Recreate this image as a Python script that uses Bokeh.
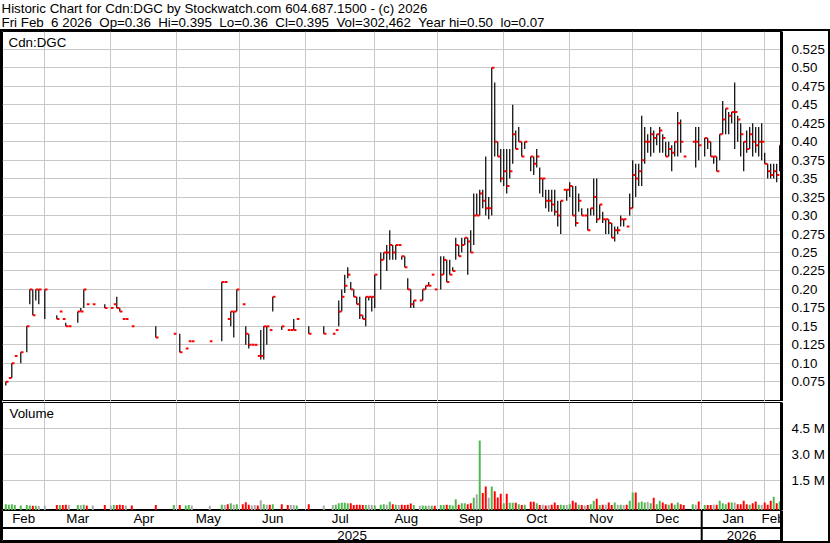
from bokeh.plotting import figure
from bokeh.models import Range1d, FixedTicker, Label, Span, ColumnDataSource
from bokeh.layouts import column
from bokeh.embed import file_html
from bokeh.resources import INLINE
from bokeh.core.properties import value

FONT = "Liberation Sans"
FS = "13.33px"
NB = "\u00a0"

header_line1 = "Historic Chart for Cdn:DGC by Stockwatch.com 604.687.1500 - (c) 2026"
header_line2 = ("Fri Feb " + NB + "6 2026 " + NB + "Op=0.36 " + NB + "Hi=0.395 " + NB + "Lo=0.36 " + NB +
                "Cl=0.395 " + NB + "Vol=302,462 " + NB + "Year hi=0.50 " + NB + "lo=0.07")
symbol = "Cdn:DGC"

# slot index (one slot per weekday) of each traded day
day = [0, 1, 2, 3, 5, 7, 8, 9, 10, 11, 13, 17, 18, 19, 20, 21, 24, 25, 26, 27, 29, 33, 35, 36, 37, 38, 39, 40, 42,
       50, 56, 58, 60, 61, 62, 68, 72, 73, 74, 75, 76, 77, 79, 80, 81, 82, 83, 84, 85, 86, 87, 88, 89, 92, 94, 95,
       96, 97, 101, 106, 109, 110, 111, 112, 113, 114, 115, 116, 117, 118, 119, 120, 121, 122, 123, 125, 126, 127,
       128, 129, 130, 131, 132, 133, 134, 135, 136, 138, 139, 140, 141, 142, 143, 145, 146, 147, 148, 149, 150,
       151, 152, 153, 154, 155, 156, 157, 158, 159, 160, 161, 162, 163, 164, 165, 166, 167, 168, 169, 170, 171,
       172, 173, 175, 176, 177, 178, 179, 180, 181, 182, 183, 184, 185, 186, 187, 188, 189, 190, 191, 192, 193,
       194, 195, 196, 197, 198, 199, 200, 201, 202, 203, 204, 205, 206, 207, 208, 209, 210, 211, 212, 213, 214,
       215, 216, 217, 218, 219, 220, 221, 222, 223, 224, 225, 226, 229, 230, 231, 233, 234, 235, 236, 237, 238,
       239, 240, 241, 242, 243, 244, 245, 246, 247, 248, 249, 250, 251, 252, 253, 254, 255, 256, 257, 258]
low = [.07, .08, .08, .11, .10, .115, .18, .165, .185, .18, .16, .16, .17, .16, .15, .15, .155, .17, .175, .18, .18,
       .175, .175, .18, .175, .17, .16, .16, .15,
       .135, .14, .115, .12, .13, .13, .13, .13, .21, .16, .15, .135, .17, .18, .125, .12, .125, .125, .11, .105,
       .105, .125, .145, .17, .145, .145, .145,
       .145, .16, .14, .14, .14, .145, .15, .17, .195, .215, .20, .19, .18, .16, .16, .15, .185, .17, .175, .20,
       .24, .225,
       .24, .24, .24, .26, .24, .23, .20, .175, .175, .185, .185, .20, .205, .22, .20, .20, .22, .21, .22, .225, .24,
       .245, .25, .26, .22, .25, .26, .30, .30, .31, .30, .295, .30, .38, .38, .345, .34, .33, .35, .37, .39, .40,
       .38, .39, .36, .355, .365, .33, .325, .31, .305, .305, .30, .285, .275, .335, .32, .325, .30, .285, .305, .30,
       .30,
       .28, .30, .30, .29, .295, .29, .275, .275, .27, .265, .275, .285, .285, .285, .30, .31, .325, .34, .34, .37,
       .385,
       .38, .385, .395, .385, .385, .38, .38, .36, .38, .38, .385, .38, .40, .365, .375, .38, .39, .38, .37, .36,
       .375,
       .41, .41, .41, .425, .39, .40, .38, .36, .385, .39, .38, .385, .38, .375, .37, .35, .35, .35, .345, .36]
high = [.075, .08, .10, .11, .115, .15, .20, .20, .20, .20, .20, .165, .17, .16, .155, .15, .17, .175, .20, .18, .18,
        .18, .175, .18, .19, .175, .16, .16, .15,
        .15, .14, .14, .12, .13, .13, .13, .21, .21, .16, .17, .17, .20, .18, .15, .14, .125, .125, .11, .145,
        .15, .15, .145, .19, .15, .145, .145,
        .16, .16, .15, .15, .14, .145, .185, .20, .22, .23, .21, .20, .19, .19, .165, .19, .19, .19, .22, .25,
        .25, .26,
        .28, .26, .26, .26, .245, .245, .215, .20, .185, .185, .20, .205, .21, .22, .20, .245, .245, .24, .24, .23,
        .27,
        .26, .27, .27, .27, .28, .33, .33, .335, .335, .38, .325, .50, .48, .40, .39, .39, .39, .39, .45, .415, .42,
        .40, .40, .38, .38, .39, .365, .35, .335, .335, .335, .335, .32, .32, .335, .335, .345, .34, .34, .33, .31,
        .30,
        .31, .31, .35, .35, .315, .305, .295, .295, .29, .285, .285, .30, .295, .285, .33, .375, .37, .37, .435, .42,
        .41,
        .42, .415, .41, .42, .41, .40, .40, .395, .40, .44, .43, .38, .40, .42, .42, .405, .405, .40, .38, .38,
        .41,
        .455, .445, .44, .44, .48, .435, .425, .40, .415, .42, .425, .42, .42, .425, .385, .37, .37, .37, .37, .395]
close = [.075, .08, .10, .11, .115, .15, .20, .165, .20, .20, .20, .16, .17, .16, .15, .15, .17, .17, .20, .18, .18,
         .175, .175, .18, .175, .17, .16, .16, .15,
         .135, .14, .115, .12, .13, .13, .13, .21, .21, .16, .17, .17, .20, .18, .14, .125, .125, .125, .11, .11,
         .15, .15, .145, .19, .15, .145, .145,
         .145, .16, .14, .14, .14, .145, .17, .19, .205, .22, .20, .19, .18, .165, .16, .19, .19, .19, .22, .24,
         .25, .25,
         .26, .25, .26, .26, .245, .23, .20, .18, .185, .185, .20, .205, .205, .22, .20, .22, .24, .21, .22, .225,
         .26,
         .245, .26, .27, .265, .25, .30, .30, .33, .32, .31, .31, .50, .40, .38, .35, .36, .34, .36, .41, .39, .40,
         .38, .40, .38, .37, .38, .35, .35, .32, .32, .315, .305, .30, .32, .335, .335, .34, .30, .29, .32, .30,
         .30,
         .28, .31, .325, .295, .315, .295, .295, .29, .27, .28, .28, .295, .295, .285, .31, .355, .35, .36, .375, .40,
         .40,
         .41, .405, .41, .415, .405, .38, .39, .385, .40, .425, .40, .38, .40, .40, .395, .405, .40, .38, .38, .36,
         .41,
         .43, .445, .435, .44, .44, .43, .41, .40, .39, .41, .40, .395, .40, .40, .37, .36, .355, .36, .355, .395]
volume = [150e3, 120e3, 150e3, 100e3, 80e3, 100e3, 80e3, 60e3, 60e3, 50e3, 60e3, 100e3, 100e3, 100e3, 120e3,
          100e3, 100e3, 100e3, 120e3, 80e3, 80e3, 100e3, 80e3, 100e3, 100e3, 120e3, 100e3, 80e3, 80e3,
          100e3, 100e3, 100e3, 80e3, 100e3, 80e3, 60e3, 120e3, 100e3, 150e3, 200e3, 120e3, 150e3, 150e3, 270e3,
          120e3, 80e3, 100e3, 80e3, 380e3, 150e3, 120e3, 120e3, 150e3, 150e3, 100e3, 100e3,
          100e3, 80e3, 150e3, 80e3, 100e3, 120e3, 200e3, 230e3, 230e3, 200e3, 200e3, 100e3, 120e3, 120e3, 100e3,
          100e3, 120e3, 100e3, 80e3, 120e3, 150e3, 120e3,
          290e3, 150e3, 120e3, 100e3, 120e3, 100e3, 120e3, 190e3, 100e3, 60e3, 80e3, 60e3, 80e3, 60e3, 60e3, 100e3,
          100e3, 120e3, 100e3, 80e3, 440e3,
          120e3, 200e3, 200e3, 150e3, 200e3, 520e3, 730e3, 3830e3, 800e3, 1170e3, 520e3, 1170e3, 900e3, 540e3,
          750e3, 210e3, 750e3, 230e3, 230e3, 230e3, 150e3,
          100e3, 120e3, 290e3, 290e3, 200e3, 100e3, 120e3, 80e3, 100e3, 120e3, 250e3, 100e3, 120e3, 100e3, 100e3,
          150e3, 350e3, 250e3, 120e3, 100e3, 80e3,
          100e3, 150e3, 350e3, 460e3, 100e3, 120e3, 120e3, 250e3, 100e3, 250e3, 120e3, 120e3, 100e3, 120e3, 350e3,
          830e3, 830e3, 250e3, 300e3, 250e3, 280e3,
          200e3, 520e3, 150e3, 350e3, 250e3, 150e3, 120e3, 200e3, 120e3, 250e3, 150e3, 100e3, 150e3, 120e3, 300e3,
          100e3, 100e3, 100e3, 120e3, 120e3, 350e3,
          200e3, 150e3, 250e3, 250e3, 250e3, 150e3, 150e3, 350e3, 150e3, 120e3, 200e3, 300e3, 120e3, 100e3, 250e3,
          120e3, 350e3, 580e3, 200e3, 302462]

price_ticks = [0.075, 0.10, 0.125, 0.15, 0.175, 0.20, 0.225, 0.25, 0.275, 0.30, 0.325, 0.35, 0.375, 0.40,
               0.425, 0.45, 0.475, 0.50, 0.525]
price_tick_labels = ["0.075", "0.10", "0.125", "0.15", "0.175", "0.20", "0.225", "0.25", "0.275", "0.30",
                     "0.325", "0.35", "0.375", "0.40", "0.425", "0.45", "0.475", "0.50", "0.525"]
vol_ticks = [1.5e6, 3.0e6, 4.5e6]
vol_tick_labels = ["1.5 M", "3.0 M", "4.5 M"]

# month boundaries (slot units) and the labels between them
month_bounds = [13, 35, 57, 78, 100, 123, 144, 166, 188, 209, 232, 253]
month_names = ["Feb", "Mar", "Apr", "May", "Jun", "Jul", "Aug", "Sep", "Oct", "Nov", "Dec", "Jan", "Feb"]
year_bounds = [232]
year_names = ["2025", "2026"]

X_START, X_END = -1.1, 258.6
PRICE_RANGE = (0.0483, 0.5491)
VOL_RANGE = (-0.213e6, 6.018e6)

GRID = "#c8c8c8"
GREEN = "#4cb84c"
RED = "#ff0000"
GRAY = "#a8a8a8"

# volume colour: up / down / unchanged versus previous close
vcolor = []
for i, c in enumerate(close):
    if i == 0 or c > close[i - 1]:
        vcolor.append(GREEN)
    elif c < close[i - 1]:
        vcolor.append(RED)
    else:
        vcolor.append(GRAY)

src = ColumnDataSource(dict(day=day, low=low, high=high, close=close,
                            tick_end=[d + 0.9 for d in day], volume=volume, color=vcolor))

W = 826
RIGHT = 47
xr = Range1d(X_START, X_END)


def style_right_axis(ax, ticks, labels):
    t = FixedTicker(ticks=ticks)
    ax.ticker = t
    ax.major_label_overrides = dict(zip(ticks, labels))
    ax.major_tick_line_color = None
    ax.minor_tick_line_color = None
    ax.axis_line_color = "black"
    ax.axis_line_width = 3
    ax.major_label_text_font = FONT
    ax.major_label_text_font_size = FS
    ax.major_label_text_color = "black"
    ax.major_label_standoff = 4
    return t


# ---------------- header ----------------
ph = figure(width=830, height=29, x_range=(0, 1), y_range=(0, 1), output_backend="svg", toolbar_location=None,
            x_axis_location=None, y_axis_location=None, min_border=0, title=None)
ph.outline_line_color = None
ph.xgrid.visible = False
ph.ygrid.visible = False
for txt, yy in ((header_line1, 21), (header_line2, 7)):
    ph.add_layout(Label(x=1, y=yy, x_units="screen", y_units="screen", text=txt, text_font=FONT,
                        text_font_size=FS, text_color="black", text_baseline="middle"))

# ---------------- price ----------------
pp = figure(width=W, height=370, x_range=xr, y_range=Range1d(*PRICE_RANGE), output_backend="svg",
            toolbar_location=None, x_axis_location=None, y_axis_location="right", title=None,
            min_border_left=0, min_border_right=RIGHT, min_border_top=0, min_border_bottom=0)
pp.outline_line_color = "black"
pp.outline_line_width = 1
t = style_right_axis(pp.yaxis[0], price_ticks, price_tick_labels)
pp.ygrid.ticker = t
pp.xgrid.ticker = FixedTicker(ticks=month_bounds)
pp.xgrid.grid_line_color = GRID
pp.ygrid.grid_line_color = GRID
pp.segment(x0="day", y0="low", x1="day", y1="high", line_color="black", line_width=1.2, source=src)
pp.segment(x0="day", y0="close", x1="tick_end", y1="close", line_color=RED, line_width=2, source=src)
pp.add_layout(Label(x=6, y=359, x_units="screen", y_units="screen", text=symbol, text_font=FONT,
                    text_font_size=FS, text_color="black", text_baseline="middle"))

# ---------------- volume ----------------
pv = figure(width=W, height=109, x_range=xr, y_range=Range1d(*VOL_RANGE), output_backend="svg",
            toolbar_location=None, x_axis_location=None, y_axis_location="right", title=None,
            min_border_left=0, min_border_right=RIGHT, min_border_top=1, min_border_bottom=0)
pv.outline_line_color = "black"
pv.outline_line_width = 1
t = style_right_axis(pv.yaxis[0], vol_ticks, vol_tick_labels)
pv.ygrid.ticker = t
pv.xgrid.ticker = FixedTicker(ticks=month_bounds)
pv.xgrid.grid_line_color = GRID
pv.ygrid.grid_line_color = GRID
pv.vbar(x="day", width=0.65, top="volume", bottom=VOL_RANGE[0], fill_color="color", line_color=None, source=src)
pv.add_layout(Label(x=7, y=97, x_units="screen", y_units="screen", text="Volume", text_font=FONT,
                    text_font_size=FS, text_color="black", text_baseline="middle"))

# ---------------- date rows ----------------
pd_ = figure(width=W, height=31, x_range=xr, y_range=Range1d(0, 31), output_backend="svg",
             toolbar_location=None, x_axis_location=None, y_axis_location="right", title=None,
             min_border_left=0, min_border_right=RIGHT, min_border_top=0, min_border_bottom=0)
pd_.outline_line_color = "black"
pd_.outline_line_width = 1
pd_.xgrid.visible = False
pd_.ygrid.visible = False
style_right_axis(pd_.yaxis[0], [], [])
edges = [X_START] + month_bounds + [X_END]
mcent = [(a + b) / 2 for a, b in zip(edges[:-1], edges[1:])]
pd_.text(x=mcent, y=[23] * len(mcent), text=month_names, text_align="center", text_baseline="middle",
         text_font=value(FONT), text_font_size=FS, text_color="black")
yedges = [X_START] + year_bounds + [X_END]
ycent = [(a + b) / 2 for a, b in zip(yedges[:-1], yedges[1:])]
for xc, name in zip(ycent, year_names):
    pd_.add_layout(Label(x=xc, y=6.5, text=name, text_align="center", text_baseline="middle",
                         text_font=FONT, text_font_size=FS, text_color="black"))
pd_.add_layout(Span(location=13.5, dimension="width", line_color="black", line_width=2))
for yb in year_bounds:
    pd_.add_layout(Span(location=yb, dimension="height", line_color="black", line_width=2))

box = column(pp, pv, pd_, styles={"border": "2px solid black"})
layout = column(ph, box)

open("out.html", "w").write(file_html(layout, INLINE))
